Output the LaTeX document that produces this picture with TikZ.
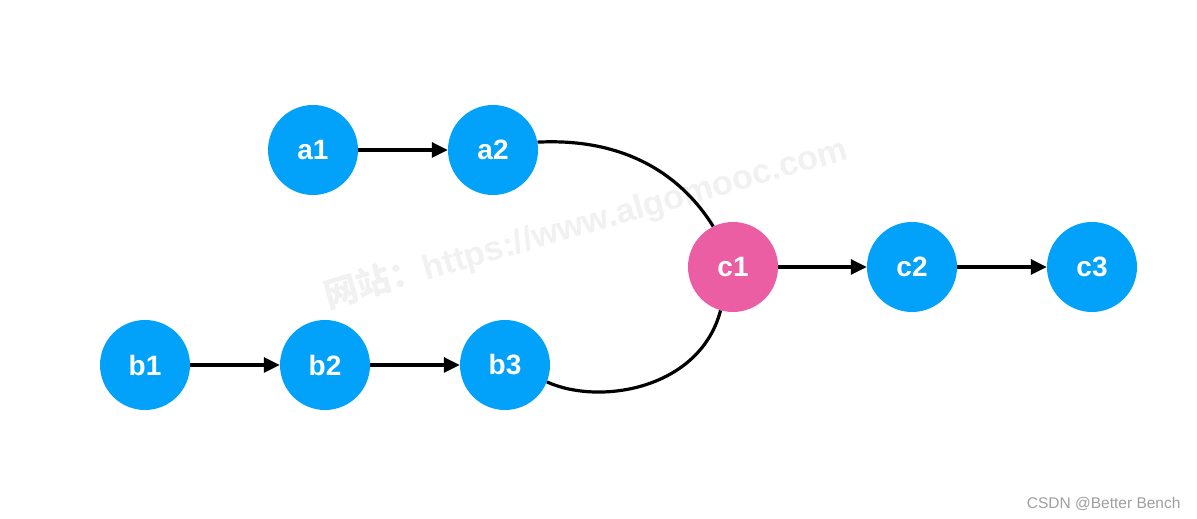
\documentclass[tikz,border=0pt]{standalone}
\usepackage{fontspec}
\setmainfont{Liberation Sans}
\newfontfamily\cjk{Noto Sans CJK SC}
\usetikzlibrary{arrows.meta}
\definecolor{nodeblue}{RGB}{2,161,250}
\definecolor{nodepink}{RGB}{236,94,163}
\definecolor{wm}{RGB}{241,241,241}
\tikzset{
  vtx/.style={circle, fill=nodeblue, minimum size=90pt, inner sep=0pt, text=white, font=\fontsize{28}{28}\selectfont\bfseries},
  pinkvtx/.style={vtx, fill=nodepink},
  edge/.style={line width=3.2pt, -{Triangle[length=16pt,width=15pt]}},
  curve/.style={line width=3.2pt}
}
\begin{document}
\begin{tikzpicture}[x=1pt,y=1pt]
\useasboundingbox[fill=white] (0,0) rectangle (1197,519);
\node[rotate=16, text=wm, font=\fontsize{34}{34}\selectfont\bfseries] (wmark) at (586,296) {{\cjk 网站：}https://www.algomooc.com};
\node[vtx] (a1) at (313,369) {a1};
\node[vtx] (a2) at (493,369) {a2};
\node[pinkvtx] (c1) at (733,252) {c1};
\node[vtx] (c2) at (912,252) {c2};
\node[vtx] (c3) at (1092,252) {c3};
\node[vtx] (b1) at (145,154) {b1};
\node[vtx] (b2) at (325,154) {b2};
\node[vtx] (b3) at (505,154) {b3};
\draw[edge] (a1) -- (a2);
\draw[edge] (b1) -- (b2);
\draw[edge] (b2) -- (b3);
\draw[edge] (c1) -- (c2);
\draw[edge] (c2) -- (c3);
\draw[curve] (a2.10) .. controls (640,382) and (690,330) .. (c1.116);
\draw[curve] (b3.-22) .. controls (600,113) and (700,130) .. (c1.-106);
\node[anchor=base east, text=gray!75, font=\fontsize{15.5}{15.5}\selectfont] (csdn) at (1184,10) {CSDN @Better Bench};
\end{tikzpicture}
\end{document}
